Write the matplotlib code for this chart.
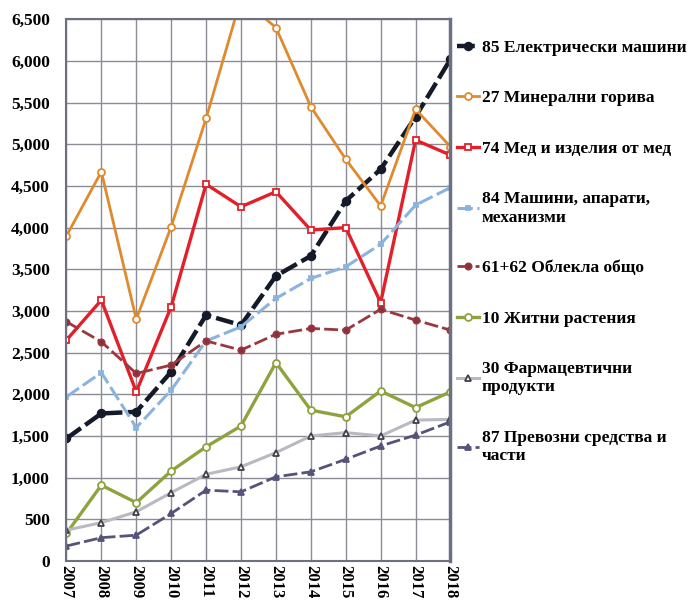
import numpy as np
import matplotlib.pyplot as plt
from matplotlib.ticker import FuncFormatter

years = list(range(2007, 2019))

s85_electric = [1470, 1770, 1790, 2270, 2950, 2830, 3420, 3660, 4320, 4700, 5330, 6020]
s27_mineral = [3900, 4670, 2900, 4010, 5310, 6750, 6400, 5450, 4820, 4260, 5420, 4970]
s74_copper = [2650, 3130, 2030, 3050, 4520, 4250, 4430, 3970, 4000, 3100, 5050, 4870]
s84_machines = [1970, 2260, 1600, 2050, 2640, 2810, 3150, 3390, 3530, 3800, 4270, 4480]
s6162_clothes = [2870, 2630, 2250, 2350, 2640, 2530, 2720, 2790, 2770, 3020, 2890, 2770]
s10_cereals = [330, 910, 700, 1080, 1370, 1620, 2380, 1810, 1730, 2040, 1840, 2030]
s30_pharma = [370, 460, 590, 820, 1040, 1130, 1300, 1500, 1540, 1500, 1690, 1700]
s87_vehicles = [180, 280, 310, 570, 850, 830, 1010, 1070, 1220, 1380, 1510, 1670]

labels = [
    "85 Електрически машини",
    "27 Минерални горива",
    "74 Мед и изделия от мед",
    "84 Машини, апарати,\nмеханизми",
    "61+62 Облекла общо",
    "10 Житни растения",
    "30 Фармацевтични\nпродукти",
    "87 Превозни средства и\nчасти",
]

plt.rcParams['font.family'] = ['Liberation Serif', 'DejaVu Serif']

fig = plt.figure(figsize=(6.92, 6.0), dpi=100)
ax = fig.add_axes([0.096, 0.065, 0.555, 0.903])

# series: values, colour, line style, marker, marker face, line width, marker size
styles = [
    (s85_electric, "#141a28", (0, (4, 1.2)), "o", "#141a28", 3.2, 5.5),
    (s27_mineral, "#e08a2e", "-", "o", "white", 2.0, 5),
    (s74_copper, "#e3202a", "-", "s", "white", 2.4, 5),
    (s84_machines, "#8ab4de", (0, (5, 1.5)), "s", "#8ab4de", 2.2, 3.5),
    (s6162_clothes, "#9a3840", (0, (5, 1.5)), "o", "#8a3038", 2.0, 4.5),
    (s10_cereals, "#8ea33e", "-", "o", "white", 2.4, 5),
    (s30_pharma, "#b9b9c2", "-", "^", "white", 2.2, 5),
    (s87_vehicles, "#56537a", (0, (5, 1.5)), "^", "#56537a", 2.0, 4),
]

handles = []
for (vals, col, ls, mk, mfc, lw, ms), lab in zip(styles, labels):
    edge = col
    if mk == "^" and mfc == "white":
        edge = "#404048"
    h, = ax.plot(years, vals, color=col, linestyle=ls, linewidth=lw, marker=mk,
                 markerfacecolor=mfc, markeredgecolor=edge, markeredgewidth=1.3,
                 markersize=ms, label=lab)
    handles.append(h)

ax.set_xlim(2007, 2018)
ax.set_ylim(0, 6500)
ax.set_xticks(years)
ax.set_yticks(np.arange(0, 6501, 500))
ax.yaxis.set_major_formatter(FuncFormatter(lambda v, p: "{:,.0f}".format(v)))
ax.grid(True, color="#8c8c94", linewidth=1.0)
ax.set_axisbelow(True)
ax.tick_params(length=0)
ax.tick_params(axis="y", pad=12)
ax.tick_params(axis="x", pad=3)
for lab in ax.get_xticklabels():
    lab.set_rotation(-90)
    lab.set_fontweight("bold")
    lab.set_fontsize(12)
for lab in ax.get_yticklabels():
    lab.set_fontweight("bold")
    lab.set_fontsize(12.5)

for side in ["left", "right", "top", "bottom"]:
    ax.spines[side].set_color("#6c7080")
    ax.spines[side].set_linewidth(1.5)
ax.spines["right"].set_linewidth(2.5)

leg = fig.legend(handles=handles, loc="upper left", bbox_to_anchor=(0.66, 0.934),
                 frameon=False, labelspacing=1.98, handlelength=1.3, handletextpad=0.15,
                 borderpad=0, borderaxespad=0, prop={"weight": "bold", "size": 12.5})

fig.savefig("out.png", dpi=100)
